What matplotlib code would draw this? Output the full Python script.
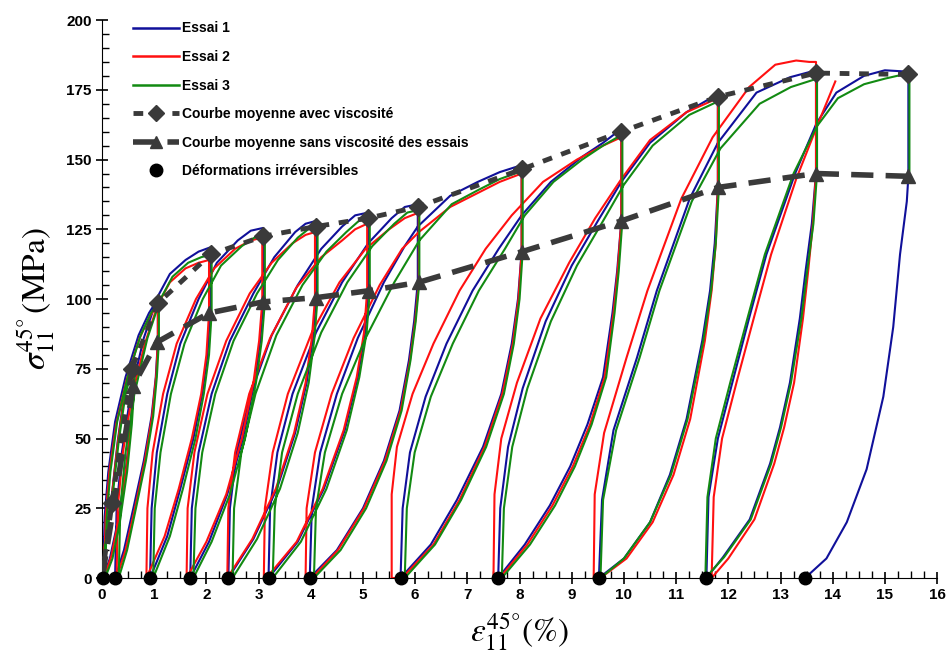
import matplotlib
matplotlib.use("Agg")
import matplotlib.pyplot as plt
from matplotlib.lines import Line2D
from matplotlib.ticker import MultipleLocator

# --- données (déformation %, contrainte MPa) ---
essai1_pts = [
    (0, 0), (0.04, 10), (0.1, 20), (0.19, 30), (0.3, 49), (0.42, 65), (0.52, 73), (0.6, 76),
    (0.6, 69), (0.55, 55), (0.45, 38), (0.3, 20), (0.15, 7), (0.02, 0),
    (0.05, 22), (0.12, 38), (0.25, 56), (0.45, 72), (0.7, 87), (0.9, 95), (1.07, 100),
    (1.07, 85), (1.03, 72), (0.95, 58), (0.8, 42), (0.6, 25), (0.42, 10), (0.25, 0),
    (0.28, 25), (0.38, 45), (0.55, 66), (0.8, 86), (1.07, 101), (1.3, 109), (1.6, 114), (1.85, 117), (2.07, 118.5),
    (2.07, 95), (2.02, 80), (1.92, 66), (1.75, 50), (1.5, 32), (1.25, 15), (0.92, 0),
    (0.95, 25), (1.05, 45), (1.25, 66), (1.5, 84), (1.85, 100), (2.2, 113), (2.6, 121), (2.85, 124.5), (3.09, 125.5),
    (3.09, 99), (3.03, 85), (2.92, 70), (2.7, 50), (2.4, 30), (2.05, 13), (1.69, 0),
    (1.72, 25), (1.85, 45), (2.1, 66), (2.45, 85), (2.9, 102), (3.3, 115), (3.7, 124), (3.9, 127), (4.1, 128),
    (4.1, 100.5), (4.04, 86), (3.92, 70), (3.7, 52), (3.35, 32), (2.9, 14), (2.42, 0),
    (2.45, 25), (2.58, 45), (2.85, 66), (3.25, 87), (3.75, 105), (4.2, 118), (4.6, 126), (4.85, 130), (5.1, 131),
    (5.1, 103), (5.04, 88), (4.9, 72), (4.65, 53), (4.25, 32), (3.75, 13), (3.19, 0),
    (3.22, 25), (3.36, 45), (3.65, 66), (4.1, 88), (4.6, 106), (5.1, 120), (5.55, 129), (5.8, 133), (6.05, 134),
    (6.05, 106), (5.98, 92), (5.88, 78), (5.7, 60), (5.4, 42), (5.0, 25), (4.5, 10), (3.98, 0),
    (4.02, 25), (4.18, 45), (4.5, 66), (4.9, 86), (5.4, 106), (5.8, 119), (6.05, 126), (6.67, 137), (7.2, 142), (7.62, 145.5), (8.04, 148),
    (8.04, 117), (7.97, 100), (7.85, 84), (7.65, 66), (7.3, 47), (6.8, 28), (6.3, 12), (5.72, 0),
    (5.76, 25), (5.9, 45), (6.2, 65), (6.6, 84), (7.1, 103), (7.6, 118), (8.04, 130), (8.6, 142), (9.2, 151), (9.6, 156), (9.95, 161),
    (9.95, 128), (9.87, 110), (9.78, 95), (9.6, 72), (9.3, 55), (8.97, 40), (8.58, 26), (8.1, 12), (7.59, 0),
    (7.63, 25), (7.78, 47), (8.06, 68), (8.5, 92), (9.0, 112), (9.5, 128), (9.95, 142), (10.5, 156), (11.2, 167), (11.8, 173.5),
    (11.8, 140), (11.74, 120), (11.65, 103), (11.5, 85), (11.2, 57), (10.88, 37), (10.5, 20), (10.0, 7), (9.52, 0),
    (9.58, 28), (9.8, 53), (10.25, 79), (10.63, 103), (11.26, 136), (11.8, 156), (12.54, 174), (13.18, 179.5), (13.68, 182),
    (13.68, 145), (13.6, 127), (13.48, 110), (13.37, 93), (13.18, 70), (12.99, 54), (12.8, 41), (12.41, 21), (11.9, 7.5), (11.58, 0),
    (11.62, 29), (11.8, 50), (12.09, 71), (12.41, 94), (12.73, 116), (13.28, 145), (13.69, 163), (14.07, 174), (14.6, 180), (15.0, 182), (15.45, 181.5),
    (15.45, 144), (15.42, 135), (15.29, 116), (15.16, 90), (14.97, 65), (14.65, 39), (14.27, 20), (13.88, 7), (13.47, 0),
]

essai2_pts = [
    (0, 0), (0.05, 12), (0.18, 28), (0.3, 48), (0.42, 64), (0.52, 72), (0.6, 74),
    (0.6, 69), (0.56, 56), (0.47, 40), (0.33, 22), (0.18, 8), (0.04, 0),
    (0.07, 22), (0.14, 38), (0.27, 55), (0.47, 71), (0.72, 86), (0.92, 94), (1.07, 98),
    (1.07, 85), (1.04, 73), (0.96, 58), (0.82, 42), (0.63, 25), (0.45, 10), (0.28, 0),
    (0.3, 25), (0.4, 45), (0.57, 65), (0.82, 84), (1.07, 98), (1.3, 106), (1.6, 111), (1.85, 113), (2.05, 114),
    (2.05, 95), (2.0, 80), (1.9, 66), (1.72, 50), (1.47, 32), (1.2, 15), (0.85, 0),
    (0.87, 25), (0.97, 45), (1.17, 66), (1.43, 84), (1.8, 100), (2.15, 111), (2.55, 118), (2.85, 121), (3.07, 122),
    (3.07, 99), (3.01, 85), (2.9, 70), (2.68, 50), (2.38, 30), (2.0, 13), (1.62, 0),
    (1.64, 25), (1.77, 45), (2.02, 66), (2.38, 85), (2.83, 102), (3.25, 113), (3.65, 120), (3.9, 123), (4.08, 124),
    (4.08, 100), (4.02, 86), (3.9, 70), (3.68, 52), (3.33, 32), (2.88, 14), (2.4, 0),
    (2.42, 25), (2.55, 45), (2.82, 66), (3.22, 86), (3.72, 104), (4.2, 115), (4.6, 121), (4.85, 125), (5.08, 127),
    (5.08, 103), (5.02, 88), (4.88, 72), (4.63, 53), (4.23, 32), (3.73, 13), (3.15, 0), (3.1, 0),
    (3.12, 25), (3.27, 45), (3.56, 66), (4.02, 88), (4.55, 106), (5.05, 118), (5.5, 125), (5.8, 129), (6.07, 131),
    (6.07, 106), (6.0, 92), (5.9, 78), (5.72, 60), (5.42, 42), (5.02, 25), (4.52, 10), (4.02, 0), (3.9, 0),
    (3.92, 25), (4.08, 45), (4.4, 66), (4.82, 86), (5.32, 105), (5.75, 118), (6.07, 124), (6.67, 133), (7.2, 138), (7.62, 142), (8.04, 145),
    (8.04, 117), (7.98, 100), (7.87, 84), (7.67, 66), (7.33, 47), (6.85, 28), (6.35, 12), (5.75, 0), (5.55, 0),
    (5.55, 30), (5.65, 47), (5.95, 66), (6.35, 84), (6.85, 103), (7.35, 118), (7.85, 130), (8.45, 142), (9.1, 150), (9.6, 155), (9.95, 158),
    (9.95, 128), (9.88, 110), (9.8, 95), (9.63, 72), (9.35, 55), (9.02, 40), (8.63, 26), (8.15, 12), (7.62, 0), (7.5, 0),
    (7.52, 30), (7.65, 50), (7.95, 70), (8.4, 93), (8.95, 113), (9.45, 129), (9.95, 143), (10.5, 157), (11.2, 167), (11.8, 172),
    (11.8, 140), (11.76, 120), (11.68, 103), (11.55, 85), (11.27, 57), (10.95, 37), (10.55, 20), (10.05, 7), (9.55, 0), (9.42, 0),
    (9.44, 30), (9.62, 52), (10.05, 79), (10.45, 103), (11.1, 136), (11.7, 158), (12.4, 176), (12.9, 184), (13.3, 185.5), (13.55, 185), (13.68, 185),
    (13.68, 145), (13.62, 127), (13.53, 110), (13.43, 93), (13.26, 70), (13.07, 54), (12.88, 41), (12.5, 21), (12.0, 7), (11.68, 0),
    (11.72, 29), (11.88, 50), (12.17, 71), (12.5, 94), (12.82, 116), (13.3, 143), (13.7, 162), (14.05, 178),
]

essai3_pts = [
    (0, 0), (0.06, 12), (0.2, 29), (0.32, 49), (0.45, 66), (0.55, 73), (0.62, 75),
    (0.62, 69), (0.57, 55), (0.48, 38), (0.34, 20), (0.2, 7), (0.06, 0),
    (0.09, 22), (0.16, 38), (0.29, 56), (0.49, 72), (0.74, 87), (0.94, 95), (1.09, 99),
    (1.09, 85), (1.05, 72), (0.98, 58), (0.84, 42), (0.65, 25), (0.48, 10), (0.32, 0),
    (0.35, 25), (0.45, 45), (0.62, 66), (0.87, 86), (1.12, 100), (1.35, 108), (1.65, 113), (1.9, 115), (2.1, 116),
    (2.1, 95), (2.05, 80), (1.95, 66), (1.79, 50), (1.55, 32), (1.3, 15), (0.98, 0),
    (1.01, 25), (1.12, 45), (1.32, 66), (1.58, 84), (1.93, 100), (2.28, 112), (2.68, 119), (2.92, 122), (3.12, 123),
    (3.12, 99), (3.06, 85), (2.95, 70), (2.74, 50), (2.45, 30), (2.1, 13), (1.75, 0),
    (1.79, 25), (1.92, 45), (2.17, 66), (2.52, 85), (2.97, 102), (3.37, 114), (3.75, 122), (3.95, 125), (4.13, 126),
    (4.13, 100.5), (4.07, 86), (3.96, 70), (3.75, 52), (3.41, 32), (2.97, 14), (2.5, 0),
    (2.53, 25), (2.67, 45), (2.94, 66), (3.34, 87), (3.84, 105), (4.3, 117), (4.68, 124), (4.92, 128), (5.13, 129),
    (5.13, 103), (5.07, 88), (4.93, 72), (4.69, 53), (4.3, 32), (3.81, 13), (3.27, 0),
    (3.31, 25), (3.45, 45), (3.75, 66), (4.2, 88), (4.7, 106), (5.18, 119), (5.6, 127), (5.85, 131), (6.08, 132),
    (6.08, 106), (6.01, 92), (5.91, 78), (5.74, 60), (5.45, 42), (5.06, 25), (4.57, 10), (4.06, 0),
    (4.1, 25), (4.27, 45), (4.6, 66), (5.05, 86), (5.6, 106), (6.08, 121), (6.7, 134), (7.2, 139), (7.62, 143), (8.06, 146),
    (8.06, 117), (8.0, 100), (7.89, 84), (7.7, 66), (7.36, 47), (6.88, 28), (6.38, 12), (5.8, 0),
    (5.84, 25), (5.99, 45), (6.3, 65), (6.72, 84), (7.22, 103), (7.72, 118), (8.1, 130), (8.65, 142), (9.2, 150), (9.6, 155), (9.97, 159),
    (9.97, 128), (9.9, 110), (9.82, 95), (9.66, 72), (9.38, 55), (9.06, 40), (8.68, 26), (8.2, 12), (7.66, 0),
    (7.7, 25), (7.86, 47), (8.15, 68), (8.6, 92), (9.1, 112), (9.6, 128), (10.0, 141), (10.55, 155), (11.25, 166), (11.82, 171),
    (11.82, 140), (11.76, 120), (11.67, 103), (11.52, 85), (11.22, 57), (10.9, 37), (10.5, 20), (10.0, 7), (9.55, 0),
    (9.6, 28), (9.85, 53), (10.3, 79), (10.68, 103), (11.3, 135), (11.85, 154), (12.6, 170), (13.2, 176), (13.7, 179),
    (13.7, 145), (13.63, 127), (13.51, 110), (13.4, 93), (13.2, 70), (13.01, 54), (12.82, 41), (12.43, 21), (11.92, 7.5), (11.56, 0),
    (11.6, 29), (11.76, 50), (12.05, 71), (12.38, 94), (12.7, 116), (13.25, 145), (13.7, 162), (14.1, 172), (14.6, 177), (15.0, 179), (15.47, 181),
    (15.47, 146),
]

# courbes moyennes
avec_visc_x = [0, 0.19, 0.57, 1.07, 2.08, 3.09, 4.1, 5.1, 6.05, 8.04, 9.95, 11.8, 13.68, 15.45]
avec_visc_y = [0, 27, 75, 98.5, 116, 122.5, 126, 129, 133, 146.5, 160, 172.5, 181, 180.5]
sans_visc_x = [0, 0.6, 1.05, 2.05, 3.09, 4.1, 5.12, 6.07, 8.05, 9.95, 11.8, 13.68, 15.45]
sans_visc_y = [0, 69, 84.5, 95, 99, 100.5, 103, 106, 117, 128, 140, 145, 144]
irrev_x = [0.02, 0.25, 0.92, 1.69, 2.42, 3.19, 3.98, 5.72, 7.59, 9.52, 11.58, 13.47]
irrev_y = [0] * len(irrev_x)

plt.rcParams['font.family'] = ['Liberation Sans', 'DejaVu Sans']
plt.rcParams['mathtext.fontset'] = 'stix'

fig = plt.figure(figsize=(9.5, 6.69), dpi=100)
ax = fig.add_axes([0.1074, 0.136, 0.879, 0.834])

gray = '#3a3a3a'
for pts, col in [(essai1_pts, '#10109a'), (essai2_pts, '#ff1010'), (essai3_pts, '#128a12')]:
    xs = [p[0] for p in pts]
    ys = [p[1] for p in pts]
    ax.plot(xs, ys, color=col, lw=1.5, zorder=2)

ax.plot(avec_visc_x, avec_visc_y, color=gray, lw=3.5, ls=(0, (2, 2)),
        marker='D', ms=9, markevery=list(range(1, len(avec_visc_x))), zorder=4)
ax.plot(sans_visc_x, sans_visc_y, color=gray, lw=4, ls=(0, (4, 2.2)),
        marker='^', ms=10, zorder=4)
ax.plot(irrev_x, irrev_y, 'o', color='black', ms=9, clip_on=False, zorder=5)

ax.set_xlim(0, 16)
ax.set_ylim(0, 200)
for s in ['top', 'right']:
    ax.spines[s].set_visible(False)
ax.xaxis.set_major_locator(MultipleLocator(1))
ax.xaxis.set_minor_locator(MultipleLocator(0.25))
ax.yaxis.set_major_locator(MultipleLocator(25))
ax.yaxis.set_minor_locator(MultipleLocator(5))
ax.tick_params(which='major', direction='inout', length=9, width=1.2, labelsize=11, pad=3)
ax.tick_params(which='minor', direction='in', length=5, width=1)
for lab in ax.get_xticklabels() + ax.get_yticklabels():
    lab.set_fontweight('bold')

ax.set_ylabel(r'$\sigma_{11}^{45°}\,(\mathrm{MPa})$', fontsize=24, labelpad=6)
ax.set_xlabel(r'$\varepsilon_{11}^{45°}\left(\%\right)$', fontsize=24, labelpad=7)

handles = [
    Line2D([], [], color='#10109a', lw=1.8),
    Line2D([], [], color='#ff1010', lw=1.8),
    Line2D([], [], color='#128a12', lw=1.8),
    Line2D([], [], color=gray, lw=3.5, ls=(0, (2, 2)), marker='D', ms=8),
    Line2D([], [], color=gray, lw=4, ls=(0, (4, 2.2)), marker='^', ms=9),
    Line2D([], [], color='black', ls='none', marker='o', ms=9),
]
labels = ['Essai 1', 'Essai 2', 'Essai 3', 'Courbe moyenne avec viscosité',
          'Courbe moyenne sans viscosité des essais', 'Déformations irréversibles']
leg = ax.legend(handles, labels, loc='upper left', bbox_to_anchor=(0.022, 1.02),
                frameon=False, handlelength=3.3, handletextpad=0.2, labelspacing=1.05,
                prop={'weight': 'bold', 'size': 10})

fig.savefig('out.png', dpi=100)
